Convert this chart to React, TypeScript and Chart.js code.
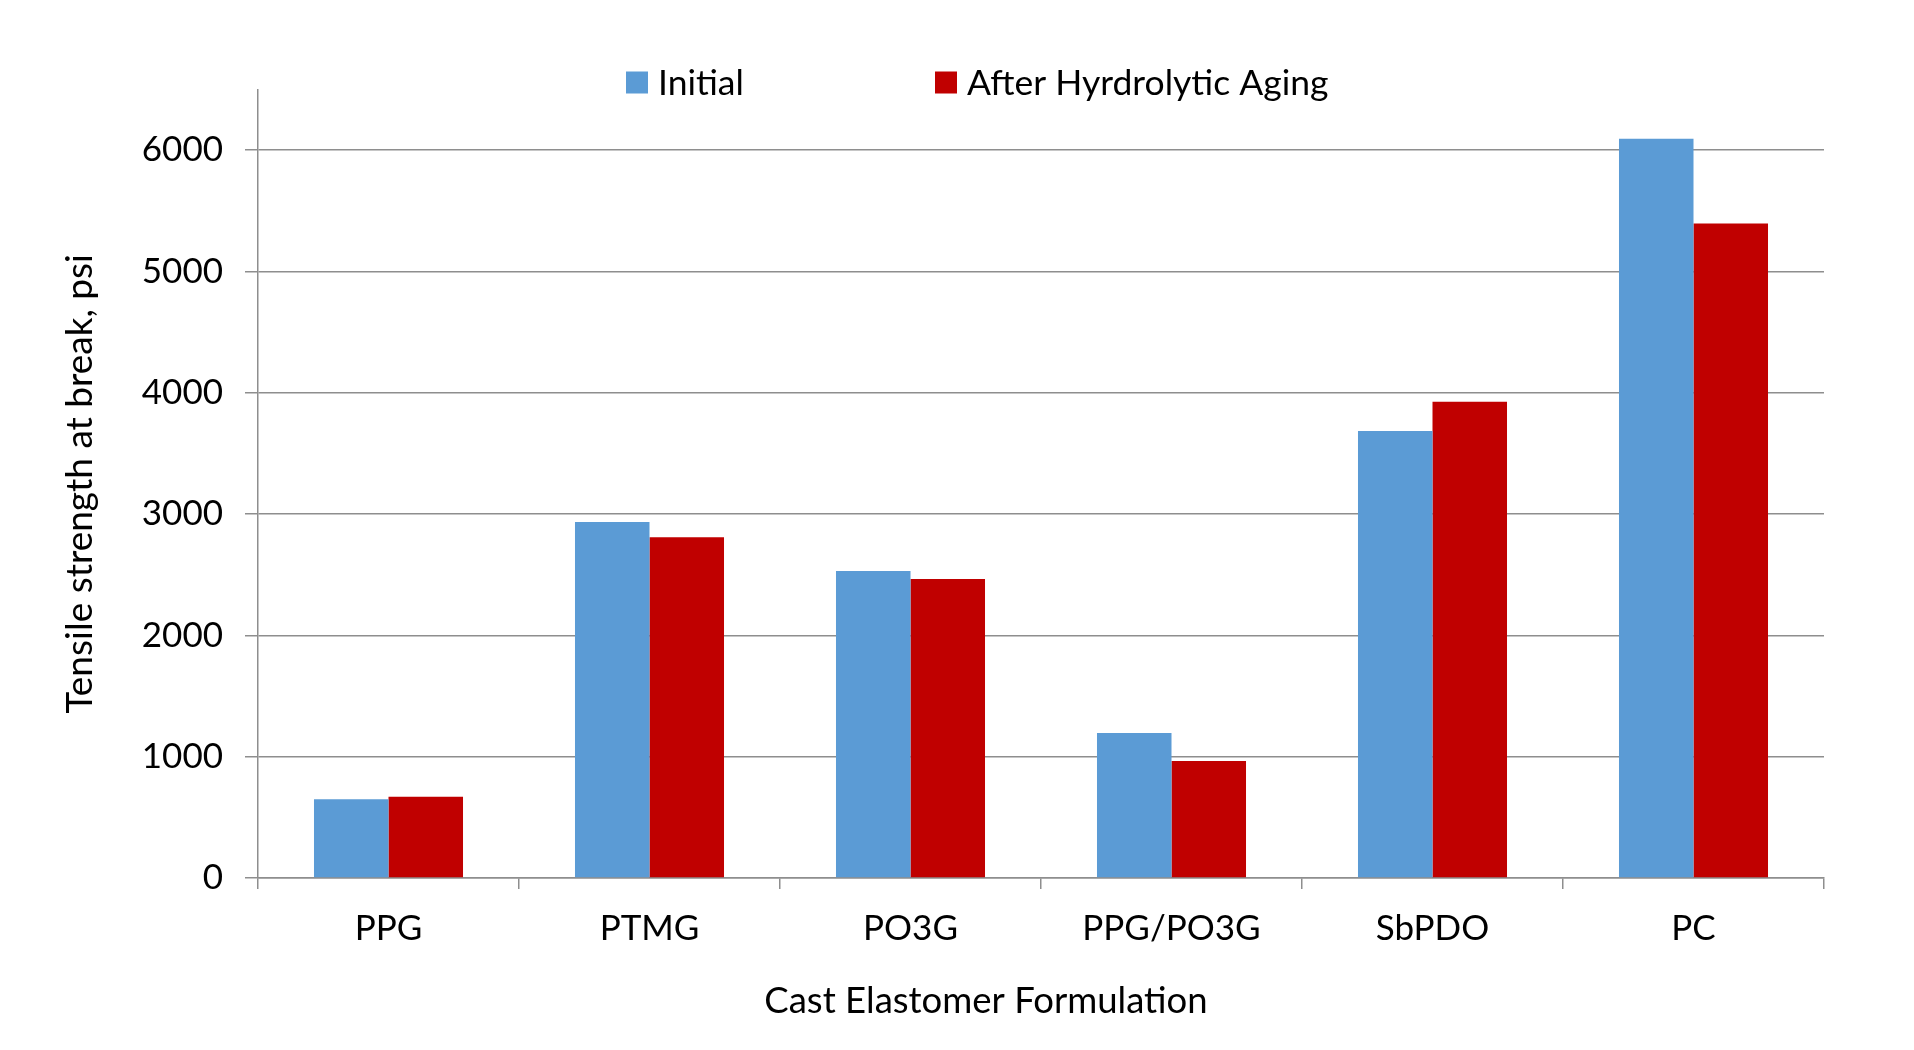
import React, { useEffect, useRef } from "react";
import { Chart, registerables } from "chart.js";

Chart.register(...registerables);

const categories = ["PPG", "PTMG", "PO3G", "PPG/PO3G", "SbPDO", "PC"];
const initialValues = [650, 2935, 2530, 1195, 3685, 6095];
const agedValues = [670, 2810, 2465, 965, 3925, 5395];
const seriesLabels = ["Initial", "After Hyrdrolytic Aging"];
const yTickValues = [0, 1000, 2000, 3000, 4000, 5000, 6000];
const yAxisMax = 6500;
const xAxisTitle = "Cast Elastomer Formulation";
const yAxisTitle = "Tensile strength at break, psi";

const FONT = "Lato, 'Open Sans', sans-serif";
const FS = 35;
const TITLE_FS = 36.5;
const GRID = "#8e8e8e";

const legendPlugin = {
  id: "excelLegend",
  afterDraw(chart: any) {
    const ctx = chart.ctx;
    const xs = [626, 935];
    const y = 82.5;
    ctx.save();
    ctx.font = `${FS + 0.5}px ${FONT}`;
    ctx.textBaseline = "middle";
    ctx.textAlign = "left";
    chart.data.datasets.forEach((ds: any, i: number) => {
      ctx.fillStyle = ds.backgroundColor;
      ctx.fillRect(xs[i], y - 11, 22, 22);
      ctx.fillStyle = "#000";
      ctx.fillText(ds.label, xs[i] + 32, y + 1);
    });
    ctx.restore();
  },
};

const xTitlePlugin = {
  id: "xTitle",
  afterDraw(chart: any) {
    const ctx = chart.ctx;
    ctx.save();
    ctx.font = `${TITLE_FS}px ${FONT}`;
    ctx.textBaseline = "middle";
    ctx.textAlign = "center";
    ctx.fillStyle = "#000";
    ctx.fillText(xAxisTitle, 986, 1001);
    ctx.restore();
  },
};

export default function App() {
  const ref = useRef<HTMLCanvasElement | null>(null);

  useEffect(() => {
    if (!ref.current) return;
    const chart = new Chart(ref.current, {
      type: "bar",
      data: {
        labels: categories,
        datasets: [
          {
            label: seriesLabels[0],
            data: initialValues,
            backgroundColor: "#5b9bd5",
            categoryPercentage: 0.571,
            barPercentage: 1.0,
          },
          {
            label: seriesLabels[1],
            data: agedValues,
            backgroundColor: "#c00000",
            categoryPercentage: 0.571,
            barPercentage: 1.0,
          },
        ],
      },
      options: {
        animation: false,
        responsive: false,
        devicePixelRatio: 1,
        layout: { padding: { top: 89.5, right: 90, left: 0, bottom: 0 } },
        plugins: {
          legend: { display: false },
          tooltip: { enabled: false },
          title: { display: false },
        },
        scales: {
          x: {
            offset: true,
            grid: {
              offset: true,
              drawOnChartArea: false,
              drawTicks: true,
              tickLength: 11,
              color: GRID,
              lineWidth: 1.5,
            },
            border: { display: true, color: GRID, width: 1.5 },
            ticks: {
              color: "#000",
              font: { family: FONT, size: FS },
              padding: 19,
              maxRotation: 0,
              autoSkip: false,
            },
            afterFit(scale: any) {
              scale.height = 172;
            },
          },
          y: {
            min: 0,
            max: yAxisMax,
            afterBuildTicks(scale: any) {
              scale.ticks = yTickValues.map((v) => ({ value: v }));
            },
            grid: {
              color: GRID,
              lineWidth: 1.5,
              tickLength: 13,
              drawTicks: true,
            },
            border: { display: true, color: GRID, width: 1.5 },
            ticks: {
              color: "#000",
              font: { family: FONT, size: FS },
              padding: 22,
              autoSkip: false,
              callback: (v: any) => String(v),
            },
            title: {
              display: true,
              text: yAxisTitle,
              color: "#000",
              font: { family: FONT, size: TITLE_FS + 0.5 },
              padding: { top: 58, bottom: 0 },
            },
            afterFit(scale: any) {
              scale.width = 258;
            },
          },
        },
      },
      plugins: [legendPlugin, xTitlePlugin],
    });
    return () => chart.destroy();
  }, []);

  return (
    <div style={{ position: "fixed", left: 0, top: 0, width: 1914, height: 1050, background: "#fff" }}>
      <canvas ref={ref} width={1914} height={1050} style={{ width: 1914, height: 1050, display: "block" }} />
    </div>
  );
}
